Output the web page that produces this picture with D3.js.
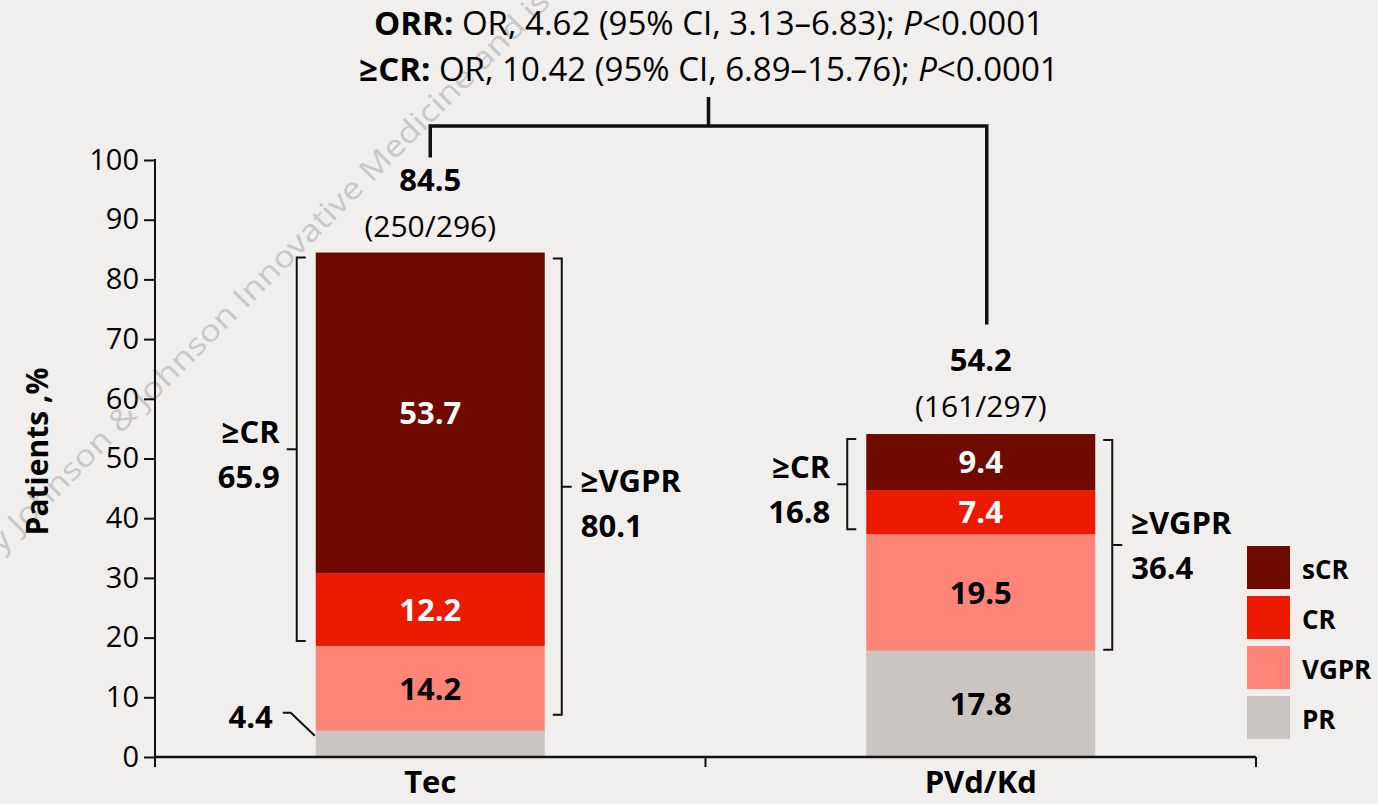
<!DOCTYPE html>
<html>
<head>
<meta charset="utf-8">
<script src="https://cdn.jsdelivr.net/npm/d3@7"></script>
<style>
  html, body { margin: 0; padding: 0; background: #f0efed; }
  svg { display: block; font-family: "Open Sans", "Noto Sans", sans-serif; }
</style>
</head>
<body>
<svg id="chart" width="1378" height="804"></svg>
<script>
// Treatment arms and response levels (stacked bottom to top)
const groups = ["Tec", "PVd/Kd"];
const levels = ["PR", "VGPR", "CR", "sCR"];

// Percent of patients by best response
const prValues   = [4.4, 17.8];
const vgprValues = [14.2, 19.5];
const crValues   = [12.2, 7.4];
const scrValues  = [53.7, 9.4];

// Overall response and cumulative groupings
const orrValues = [84.5, 54.2];
const orrCounts = ["(250/296)", "(161/297)"];
const crPlusValues   = [65.9, 16.8];
const vgprPlusValues = [80.1, 36.4];

const yTicks = [0, 10, 20, 30, 40, 50, 60, 70, 80, 90, 100];

const colors = { sCR: "#6e0a00", CR: "#eb1a00", VGPR: "#fe8478", PR: "#cac5c1" };
const labelColors = { sCR: "#ffffff", CR: "#ffffff", VGPR: "#000000", PR: "#000000" };

const svg = d3.select("#chart");
const ink = "#111";

const y = d3.scaleLinear().domain([0, 100]).range([757, 160]);
const x = d3.scaleBand().domain(groups).range([155, 1256])
  .paddingInner(0.584).paddingOuter(0.292);

const rows = groups.map((g, i) => ({
  group: g, PR: prValues[i], VGPR: vgprValues[i], CR: crValues[i], sCR: scrValues[i]
}));
const series = d3.stack().keys(levels)(rows);

// Watermark
svg.append("text")
  .attr("transform", "translate(-14,569) rotate(-45)")
  .attr("text-anchor", "start")
  .attr("font-size", 30)
  .attr("fill", "#c8c8c8")
  .attr("textLength", 800)
  .attr("lengthAdjust", "spacingAndGlyphs")
  .text("by Johnson & Johnson Innovative Medicine and is");

// Bars
const layer = svg.append("g").selectAll("g").data(series).join("g")
  .attr("fill", d => colors[d.key]);
layer.selectAll("rect").data(d => d).join("rect")
  .attr("x", d => x(d.data.group))
  .attr("width", x.bandwidth())
  .attr("y", d => y(d[1]))
  .attr("height", d => y(d[0]) - y(d[1]));

// Segment values
series.forEach(s => {
  s.forEach(d => {
    const val = d[1] - d[0];
    const h = y(d[0]) - y(d[1]);
    const txt = d3.format(".1f")(val);
    if (h >= 30) {
      svg.append("text")
        .attr("x", x(d.data.group) + x.bandwidth() / 2)
        .attr("y", (y(d[0]) + y(d[1])) / 2)
        .attr("dy", "0.36em")
        .attr("text-anchor", "middle")
        .attr("font-size", 31).attr("font-weight", "bold")
        .attr("fill", labelColors[s.key])
        .text(txt);
    } else {
      // small segment: label outside with a leader line
      const bx = x(d.data.group);
      const ly = y(d[1]) - 18;
      svg.append("text")
        .attr("x", bx - 43).attr("y", ly + 15)
        .attr("text-anchor", "end")
        .attr("font-size", 31).attr("font-weight", "bold").attr("fill", "#000")
        .text(txt);
      svg.append("path")
        .attr("d", `M${bx - 33},${ly}H${bx - 25}L${bx - 1},${y(d[1]) + 5}`)
        .attr("fill", "none").attr("stroke", ink).attr("stroke-width", 2);
    }
  });
});

// Axes
const yAxis = svg.append("g").attr("transform", "translate(155,0)")
  .call(d3.axisLeft(y).tickValues(yTicks).tickSize(11).tickSizeOuter(0).tickPadding(5));
yAxis.select(".domain").remove();
yAxis.selectAll(".tick line").attr("stroke", ink).attr("stroke-width", 2);
yAxis.selectAll("text").attr("font-size", 29).attr("font-family", "Open Sans").attr("fill", "#000");
svg.append("line").attr("x1", 155).attr("x2", 155).attr("y1", y(100) - 1).attr("y2", y(0) + 10)
  .attr("stroke", ink).attr("stroke-width", 2);

svg.append("line").attr("x1", 155).attr("x2", x.range()[1]).attr("y1", y(0)).attr("y2", y(0))
  .attr("stroke", ink).attr("stroke-width", 2.5);
const gap = (x.step() - x.bandwidth()) / 2;
const bounds = [x.range()[0], x(groups[1]) - gap, x.range()[1]];
bounds.forEach(b => svg.append("line").attr("x1", b).attr("x2", b)
  .attr("y1", y(0)).attr("y2", y(0) + 10).attr("stroke", ink).attr("stroke-width", 2));

const xAxis = svg.append("g").attr("transform", `translate(0,${y(0)})`)
  .call(d3.axisBottom(x).tickSize(0).tickPadding(14));
xAxis.select(".domain").remove();
xAxis.selectAll("text").attr("font-size", 31).attr("font-weight", "bold")
  .attr("font-family", "Open Sans").attr("fill", "#000");

// Y title
svg.append("text")
  .attr("transform", `translate(48,${(y(0) + y(100)) / 2 - 7}) rotate(-90)`)
  .attr("text-anchor", "middle")
  .attr("font-size", 30).attr("font-weight", "bold")
  .text("Patients ,%");

// ORR totals above the bars
groups.forEach((g, i) => {
  const cx = x(g) + x.bandwidth() / 2;
  const top = y(orrValues[i]);
  svg.append("text").attr("x", cx).attr("y", top - 62).attr("text-anchor", "middle")
    .attr("font-size", 31).attr("font-weight", "bold").text(d3.format(".1f")(orrValues[i]));
  svg.append("text").attr("x", cx).attr("y", top - 16).attr("text-anchor", "middle")
    .attr("font-size", 30).text(orrCounts[i]);
});

// Brackets for >=CR (left) and >=VGPR (right)
function bracket(xb, y1, y2, dir) {
  const mid = (y1 + y2) / 2;
  const s = 9 * dir;
  return `M${xb + s},${y1}H${xb}V${y2}H${xb + s}M${xb},${mid}H${xb - 10 * dir}`;
}
const bracketShift = [[0, 0], [0, -16]];
groups.forEach((g, i) => {
  const s = series.find(d => d.key === "sCR")[i];
  const c = series.find(d => d.key === "CR")[i];
  const v = series.find(d => d.key === "VGPR")[i];
  const bx0 = x(g), bx1 = x(g) + x.bandwidth();

  // >=CR bracket on the left
  const lx = bx0 - 19;
  const l1 = y(s[1]) + 5, l2 = y(c[0]) - 5;
  svg.append("path").attr("d", bracket(lx, l1, l2, 1))
    .attr("fill", "none").attr("stroke", ink).attr("stroke-width", 2);
  const lm = (l1 + l2) / 2;
  svg.append("text").attr("x", lx - 17).attr("y", lm - 6 + bracketShift[i][0]).attr("text-anchor", "end")
    .attr("font-size", 31).attr("font-weight", "bold").text("≥CR");
  svg.append("text").attr("x", lx - 17).attr("y", lm + 39 + bracketShift[i][0]).attr("text-anchor", "end")
    .attr("font-size", 31).attr("font-weight", "bold").text(d3.format(".1f")(crPlusValues[i]));

  // >=VGPR bracket on the right
  const rx = bx1 + 17;
  const r1 = y(s[1]) + 6, r2 = y(v[0]) - (i === 0 ? 16 : 1);
  svg.append("path").attr("d", bracket(rx, r1, r2, -1))
    .attr("fill", "none").attr("stroke", ink).attr("stroke-width", 2);
  const rm = (r1 + r2) / 2;
  svg.append("text").attr("x", rx + 19).attr("y", rm + 5 + bracketShift[i][1]).attr("text-anchor", "start")
    .attr("font-size", 31).attr("font-weight", "bold").text("≥VGPR");
  svg.append("text").attr("x", rx + 19).attr("y", rm + 50 + bracketShift[i][1]).attr("text-anchor", "start")
    .attr("font-size", 31).attr("font-weight", "bold").text(d3.format(".1f")(vgprPlusValues[i]));
});

// Comparison connector
const cx0 = x(groups[0]) + x.bandwidth() / 2;
const cx1 = x(groups[1]) + x.bandwidth() / 2 + 6;
const hy = 126;
const midX = (cx0 + cx1) / 2;
svg.append("path")
  .attr("d", `M${cx0},${y(orrValues[0]) - 95}V${hy}H${cx1}V${y(orrValues[1]) - 109}M${midX},${hy}V97`)
  .attr("fill", "none").attr("stroke", ink).attr("stroke-width", 3.5);

// Odds ratio statements
const title = svg.append("g").attr("font-size", 33).attr("text-anchor", "middle");
const t1 = title.append("text").attr("x", 709).attr("y", 35);
t1.append("tspan").attr("font-weight", "bold").text("ORR:");
t1.append("tspan").text(" OR, 4.62 (95% CI, 3.13–6.83); ");
t1.append("tspan").attr("font-style", "italic").text("P");
t1.append("tspan").text("<0.0001");
const t2 = title.append("text").attr("x", 709).attr("y", 81);
t2.append("tspan").attr("font-weight", "bold").text("≥CR:");
t2.append("tspan").text(" OR, 10.42 (95% CI, 6.89–15.76); ");
t2.append("tspan").attr("font-style", "italic").text("P");
t2.append("tspan").text("<0.0001");

// Legend
const legendKeys = ["sCR", "CR", "VGPR", "PR"];
const legendTops = d3.scalePoint().domain(legendKeys).range([546, 696]);
const lg = svg.append("g");
legendKeys.forEach(k => {
  lg.append("rect").attr("x", 1247).attr("y", legendTops(k)).attr("width", 43).attr("height", 43)
    .attr("fill", colors[k]);
  lg.append("text").attr("x", 1302).attr("y", legendTops(k) + 24).attr("dy", "0.36em")
    .attr("font-size", 26).attr("font-weight", "bold").text(k);
});
</script>
</body>
</html>
